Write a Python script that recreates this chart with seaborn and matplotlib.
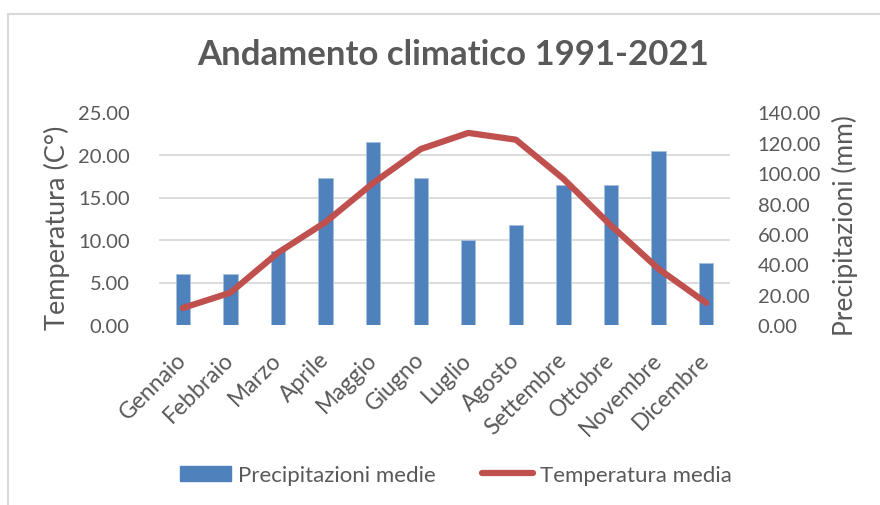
import matplotlib
matplotlib.use("Agg")
import matplotlib.pyplot as plt
import seaborn as sns
import pandas as pd
from matplotlib.ticker import MultipleLocator, FormatStrFormatter
from matplotlib.lines import Line2D
from matplotlib.patches import Patch

months = ["Gennaio", "Febbraio", "Marzo", "Aprile", "Maggio", "Giugno",
          "Luglio", "Agosto", "Settembre", "Ottobre", "Novembre", "Dicembre"]
precip_mm = [33.6, 33.6, 48.9, 96.6, 120.7, 96.6, 56.0, 65.9, 92.4, 92.4, 114.8, 40.6]
temp_c = [2.0, 3.8, 8.5, 12.1, 16.7, 20.7, 22.6, 21.8, 17.2, 11.7, 6.6, 2.6]

title = "Andamento climatico 1991-2021"
left_label = "Temperatura (C°)"
right_label = "Precipitazioni (mm)"
bar_label = "Precipitazioni medie"
line_label = "Temperatura media"

BLUE = "#4F81BD"
RED = "#C0504D"
TXT = "#595959"
GRID = "#D9D9D9"

sns.set_style("white")
plt.rcParams["font.family"] = ["Lato", "DejaVu Sans"]

df = pd.DataFrame({"Mese": months, "Precipitazioni": precip_mm, "Temperatura": temp_c})

W, H = 880, 506
fig = plt.figure(figsize=(W / 100, H / 100), dpi=100)
fig.patch.set_facecolor("white")

x0, x1, y0, y1 = 159, 730, 113.5, 326
ax = fig.add_axes([x0 / W, 1 - y1 / H, (x1 - x0) / W, (y1 - y0) / H])

# bars (precipitation, right axis)
sns.barplot(data=df, x="Mese", y="Precipitazioni", ax=ax, color=BLUE,
            width=0.3, saturation=1, edgecolor="#A7C0DE", linewidth=0.6, zorder=2)
ax.set_xlabel("")
for s in ax.spines.values():
    s.set_visible(False)

# line (temperature, left axis)
ax2 = ax.twinx()
sns.pointplot(data=df, x="Mese", y="Temperatura", ax=ax2, color=RED,
              marker="", linewidth=4.5, linestyle="-")
for ln in ax2.lines:
    ln.set_solid_capstyle("round")
    ln.set_solid_joinstyle("round")
ax2.set_ylim(0, 25)
ax2.yaxis.set_major_locator(MultipleLocator(5))
ax2.yaxis.set_major_formatter(FormatStrFormatter("%.2f"))
ax2.yaxis.tick_left()
ax2.yaxis.set_label_position("left")
ax2.set_ylabel(left_label, fontsize=19.5, color=TXT)
ax2.yaxis.label.set_va("center")
ax2.yaxis.set_label_coords((57 - x0) / (x1 - x0), (y1 - 228) / (y1 - y0))
ax2.tick_params(axis="y", length=0, pad=21, labelsize=14.5, labelcolor=TXT)
ax2.set_xlabel("")
for s in ax2.spines.values():
    s.set_visible(False)
ax2.set_xlim(-0.5, 11.5)

# right axis setup (after twinx, which moves ticks)
ax.set_ylim(0, 140)
ax.yaxis.set_major_locator(MultipleLocator(20))
ax.yaxis.set_major_formatter(FormatStrFormatter("%.2f"))
ax.yaxis.set_minor_locator(MultipleLocator(28))
ax.grid(which="minor", axis="y", color=GRID, linewidth=1.3, zorder=0)
ax.set_axisbelow(True)
ax.yaxis.tick_right()
ax.yaxis.set_label_position("right")
ax.set_ylabel(right_label, fontsize=19, color=TXT)
ax.yaxis.label.set_va("center")
ax.yaxis.set_label_coords((845 - x0) / (x1 - x0), (y1 - 226) / (y1 - y0))
ax.tick_params(axis="y", which="both", length=0, pad=20, labelsize=14.5, labelcolor=TXT,
               left=False, labelleft=False, right=True, labelright=True)
ax.tick_params(axis="x", length=0, pad=22, labelsize=16.5, labelcolor=TXT)
for lab in ax.get_xticklabels():
    lab.set_rotation(45)
    lab.set_ha("right")
    lab.set_rotation_mode("anchor")
    lab.set_va("center")

fig.text(0.5 * (198 + 708) / W, 1 - 55 / H, title, ha="center", va="center",
         fontsize=25, fontweight="bold", color=TXT)

handles = [Patch(facecolor=BLUE, edgecolor=BLUE, label=bar_label),
           Line2D([0], [0], color=RED, lw=4.5, solid_capstyle="round", label=line_label)]
fig.legend(handles=handles, loc="center", bbox_to_anchor=(456 / W, 1 - 476 / H),
           ncol=2, frameon=False, fontsize=16, labelcolor=TXT,
           handlelength=2.3, handleheight=0.65, handletextpad=0.3, columnspacing=2.1)

# chart-area border (cropped at right and bottom)
fig.add_artist(Line2D([8 / W, 1], [1 - 15 / H, 1 - 15 / H], transform=fig.transFigure,
                      color=GRID, lw=1.5))
fig.add_artist(Line2D([8 / W, 8 / W], [0, 1 - 15 / H], transform=fig.transFigure,
                      color=GRID, lw=1.5))

fig.savefig("out.png", dpi=100, facecolor="white")
